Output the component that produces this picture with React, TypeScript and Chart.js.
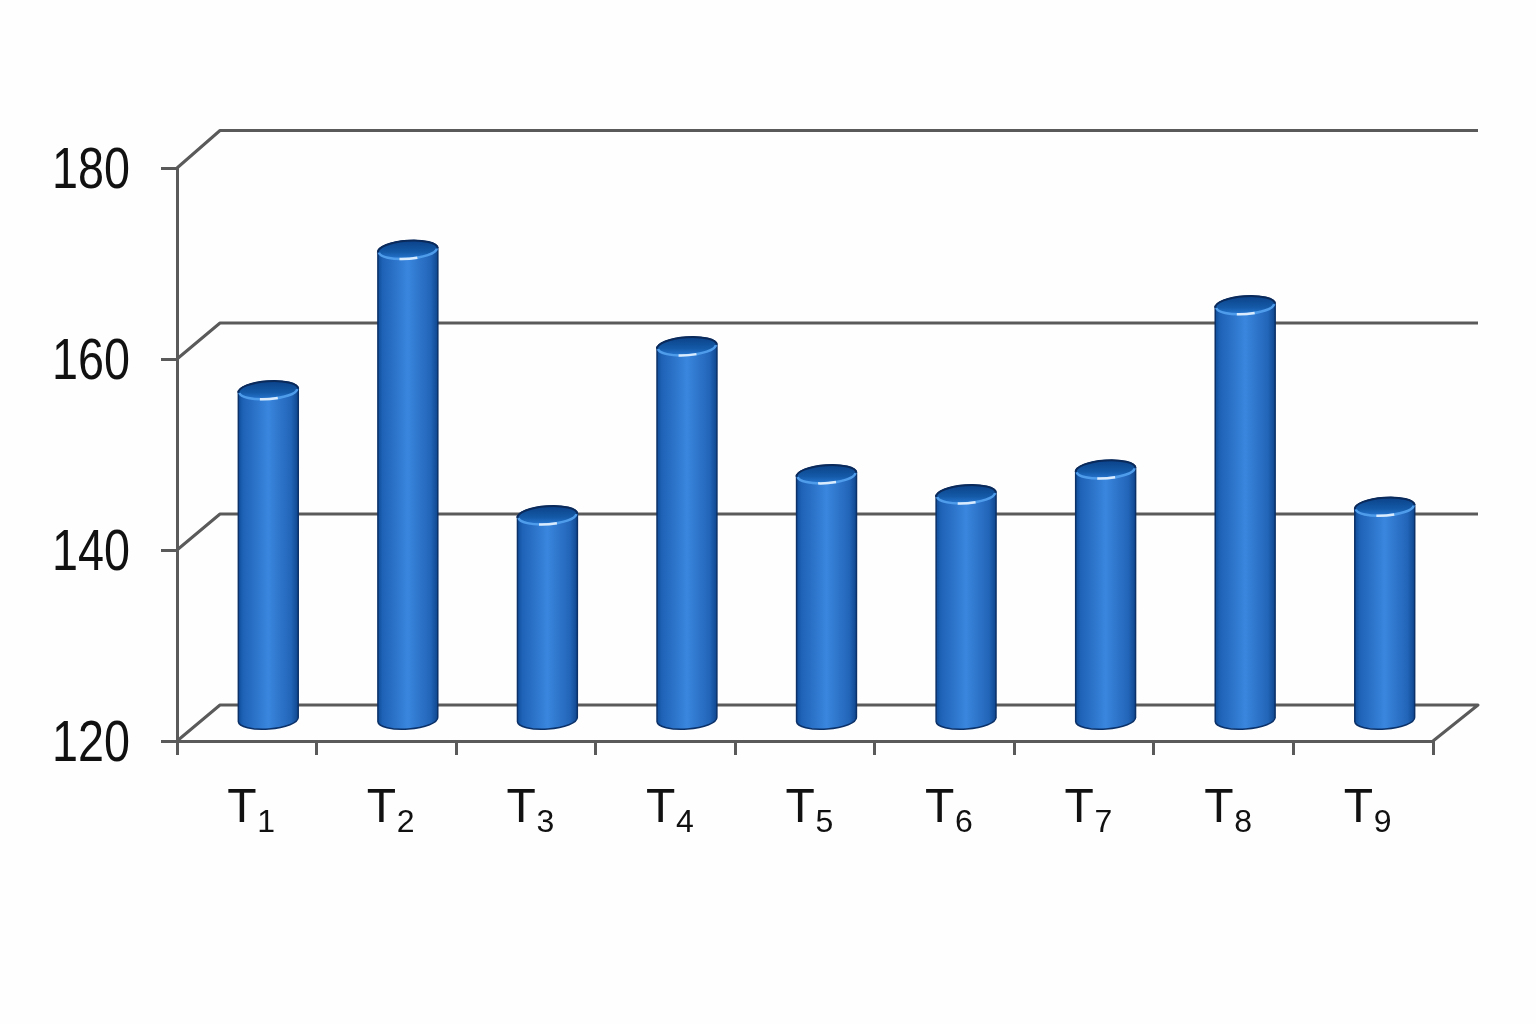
import React, { useEffect, useRef } from "react";
import { Chart, registerables } from "chart.js";

Chart.register(...registerables);

const categories = ["T1", "T2", "T3", "T4", "T5", "T6", "T7", "T8", "T9"];
const seriesValues = [154.7, 169.4, 141.6, 159.3, 145.9, 143.8, 146.4, 163.6, 142.5];
const yTicks = [120, 140, 160, 180];

const AXIS = "#5a5a5a";
const DEPTH_X = 43;
const DEPTH_Y = 36;
const BAR_DX = 21.5;
const BAR_DY = 19;
const BASE_DY = 20;
const RY = 9.5;
const TILT = -0.07;

const depthPlugin = {
  id: "depthWalls",
  beforeDatasetsDraw(chart: any) {
    const { ctx, chartArea, scales } = chart;
    ctx.save();
    ctx.strokeStyle = AXIS;
    ctx.lineWidth = 3;
    ctx.lineJoin = "round";
    for (const v of yTicks) {
      const y = scales.y.getPixelForValue(v);
      const dy = v === 180 ? DEPTH_Y + 1.5 : DEPTH_Y;
      ctx.beginPath();
      ctx.moveTo(chartArea.left, y);
      ctx.lineTo(chartArea.left + DEPTH_X, y - dy);
      ctx.lineTo(chartArea.right + 45, y - dy);
      if (v === yTicks[0]) ctx.lineTo(chartArea.right, y);
      ctx.stroke();
    }
    ctx.restore();
  },
};

const labelPlugin = {
  id: "axisLabels",
  afterDraw(chart: any) {
    const { ctx, scales } = chart;
    ctx.save();
    ctx.fillStyle = "#111111";
    ctx.font = "58px 'Liberation Sans'";
    ctx.textAlign = "right";
    ctx.textBaseline = "middle";
    for (const v of yTicks) {
      ctx.fillText(String(v), 130, scales.y.getPixelForValue(v) + 4, 78);
    }
    ctx.textAlign = "left";
    ctx.textBaseline = "alphabetic";
    categories.forEach((label, i) => {
      const x = scales.x.getPixelForValue(i) - 19.5;
      ctx.font = "48px 'Liberation Sans'";
      ctx.fillText(label[0], x, 822);
      ctx.font = "32px 'Liberation Sans'";
      ctx.fillText(label.slice(1), x + 30, 832);
    });
    ctx.restore();
  },
};

const cylinderPlugin = {
  id: "cylinders",
  afterDatasetsDraw(chart: any) {
    const { ctx } = chart;
    const meta = chart.getDatasetMeta(0);
    for (const el of meta.data) {
      const w = el.width;
      const rx = w / 2;
      const cx = el.x + BAR_DX;
      const top = el.y - BAR_DY;
      const bottom = el.base - BASE_DY;
      const left = cx - rx;
      const right = cx + rx;

      ctx.save();
      const body = ctx.createLinearGradient(left, 0, right, 0);
      body.addColorStop(0, "#0f4c98");
      body.addColorStop(0.08, "#1e62b6");
      body.addColorStop(0.5, "#3a86de");
      body.addColorStop(0.88, "#2265b8");
      body.addColorStop(1, "#0f468e");
      ctx.beginPath();
      ctx.ellipse(cx, bottom, rx, RY, TILT, Math.PI, 0, true);
      ctx.lineTo(right, top);
      ctx.ellipse(cx, top, rx, RY, TILT, 0, Math.PI, true);
      ctx.closePath();
      ctx.fillStyle = body;
      ctx.fill();
      ctx.strokeStyle = "#0b3168";
      ctx.lineWidth = 1.5;
      ctx.stroke();

      // cap
      const cap = ctx.createLinearGradient(0, top - RY, 0, top + RY);
      cap.addColorStop(0, "#0b4288");
      cap.addColorStop(0.6, "#145aa8");
      cap.addColorStop(1, "#2a7ad6");
      ctx.beginPath();
      ctx.ellipse(cx, top, rx, RY, TILT, 0, Math.PI * 2);
      ctx.fillStyle = cap;
      ctx.fill();
      ctx.beginPath();
      ctx.ellipse(cx, top, rx, RY, TILT, Math.PI, 0);
      ctx.strokeStyle = "#0a2a5c";
      ctx.lineWidth = 2;
      ctx.stroke();

      // lower rim
      ctx.beginPath();
      ctx.ellipse(cx, top, rx - 1, RY - 1, TILT, 0.05, Math.PI - 0.05);
      ctx.strokeStyle = "#4f9ceb";
      ctx.lineWidth = 2.5;
      ctx.stroke();

      // highlight
      ctx.beginPath();
      ctx.ellipse(cx, top, rx - 1, RY - 1, TILT, Math.PI * 0.4, Math.PI * 0.6);
      ctx.strokeStyle = "rgba(232,244,255,0.9)";
      ctx.lineWidth = 2.5;
      ctx.stroke();
      ctx.restore();
    }
  },
};

export default function App() {
  const ref = useRef<HTMLCanvasElement | null>(null);

  useEffect(() => {
    if (!ref.current) return;
    const chart = new Chart(ref.current, {
      type: "bar",
      data: {
        labels: categories,
        datasets: [
          {
            data: seriesValues,
            base: 120,
            backgroundColor: "rgba(0,0,0,0)",
            borderWidth: 0,
            barPercentage: 0.43,
            categoryPercentage: 1,
          },
        ],
      },
      options: {
        animation: false,
        responsive: false,
        layout: { padding: { top: 168, right: 103, left: 0, bottom: 0 } },
        plugins: { legend: { display: false }, tooltip: { enabled: false }, title: { display: false } },
        scales: {
          x: {
            afterFit: (s: any) => {
              s.height = 283;
            },
            offset: true,
            border: { color: AXIS, width: 3 },
            grid: { color: AXIS, lineWidth: 3, drawOnChartArea: false, drawTicks: true, tickLength: 14, offset: true },
            ticks: { display: false, autoSkip: false },
          },
          y: {
            min: 120,
            max: 180,
            afterFit: (s: any) => {
              s.width = 177;
            },
            afterBuildTicks: (s: any) => {
              s.ticks = yTicks.map((value) => ({ value }));
            },
            border: { color: AXIS, width: 3 },
            grid: { color: AXIS, lineWidth: 3, drawOnChartArea: false, drawTicks: true, tickLength: 16 },
            ticks: { display: false },
          },
        },
      },
      plugins: [depthPlugin, cylinderPlugin, labelPlugin],
    } as any);
    return () => chart.destroy();
  }, []);

  return (
    <div style={{ position: "absolute", left: 0, top: 0, width: 1536, height: 1024, background: "#fefefe" }}>
      <canvas ref={ref} width={1536} height={1024} style={{ display: "block" }} />
    </div>
  );
}
